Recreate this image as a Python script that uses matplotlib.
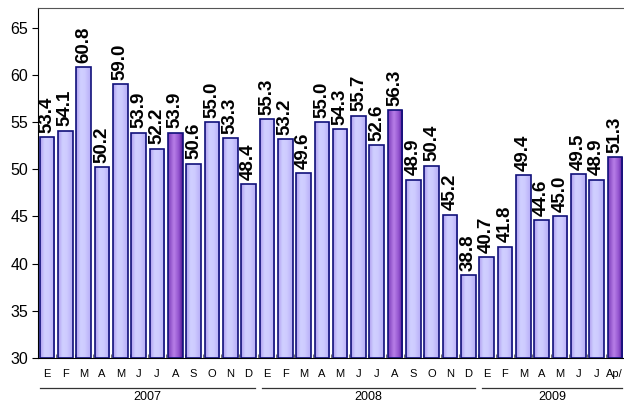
import matplotlib
matplotlib.use("Agg")
import matplotlib.pyplot as plt
import numpy as np
from matplotlib.colors import LinearSegmentedColormap
from matplotlib.transforms import blended_transform_factory

plt.rcParams['font.family'] = ['Liberation Sans', 'DejaVu Sans']

months = ["E", "F", "M", "A", "M", "J", "J", "A", "S", "O", "N", "D",
          "E", "F", "M", "A", "M", "J", "J", "A", "S", "O", "N", "D",
          "E", "F", "M", "A", "M", "J", "J", "Ap/"]
values = [53.4, 54.1, 60.8, 50.2, 59.0, 53.9, 52.2, 53.9, 50.6, 55.0, 53.3, 48.4,
          55.3, 53.2, 49.6, 55.0, 54.3, 55.7, 52.6, 56.3, 48.9, 50.4, 45.2, 38.8,
          40.7, 41.8, 49.4, 44.6, 45.0, 49.5, 48.9, 51.3]
highlight = [7, 19, 31]
years = ["2007", "2008", "2009"]
year_counts = [12, 12, 8]

fig = plt.figure(figsize=(6.24, 4.04), dpi=100)
ax = fig.add_axes([38/624, 46/404, 1 - 38/624, 350/404])

x = np.arange(len(values))
bars = ax.bar(x, [v - 30 for v in values], bottom=30, width=0.8,
              edgecolor="#10107a", linewidth=1.2, facecolor="none", zorder=3)

cmap_reg = LinearSegmentedColormap.from_list(
    "reg", [(0, "#ae9cf0"), (0.3, "#d0d0ff"), (0.6, "#cecbff"), (1, "#b6acf6")])
cmap_hi = LinearSegmentedColormap.from_list(
    "hi", [(0, "#7a3ab8"), (0.4, "#b87fe8"), (0.75, "#9050cc"), (1, "#4a108a")])
grad = np.linspace(0, 1, 64).reshape(1, -1)
for i, b in enumerate(bars):
    cm = cmap_hi if i in highlight else cmap_reg
    x0, y0 = b.get_x(), b.get_y()
    w, h = b.get_width(), b.get_height()
    im = ax.imshow(grad, cmap=cm, extent=[x0, x0 + w, y0, y0 + h],
                   aspect="auto", zorder=2, interpolation="bicubic")
    im.set_clip_path(b)

for xi, v in zip(x, values):
    ax.text(xi, v + 0.45, f"{v:.1f}", rotation=90, ha="center", va="bottom",
            fontsize=13.5, fontweight="bold", color="black", zorder=4)

ax.set_xlim(-0.5, len(values) - 0.5)
ax.set_ylim(30, 67.1)
ax.set_yticks(range(30, 66, 5))
ax.tick_params(axis="y", direction="out", length=4, labelsize=11.5, pad=3)

ax.set_xticks(x)
ax.set_xticklabels(months)
ax.tick_params(axis="x", which="major", length=0, labelsize=8, pad=8)
ax.set_xticks(np.arange(0.5, len(values) - 0.5, 1), minor=True)
ax.tick_params(axis="x", which="minor", direction="in", length=3, color="#555555")

ax.spines["right"].set_visible(False)
ax.spines["top"].set_color("#555555")
for s in ["left", "bottom"]:
    ax.spines[s].set_color("black")

trans = blended_transform_factory(ax.transData, ax.transAxes)
start = 0
for yr, n in zip(years, year_counts):
    a = start - 0.4 if start == 0 else start - 0.25
    bnd = start + n - 0.64 if start + n < len(values) else start + n - 0.6
    ax.plot([a, bnd], [-0.086, -0.086], color="#333333", lw=0.9,
            transform=trans, clip_on=False)
    ax.text((a + bnd) / 2, -0.111, yr, transform=trans, ha="center", va="center",
            fontsize=9)
    start += n

fig.savefig("out.png", dpi=100)
